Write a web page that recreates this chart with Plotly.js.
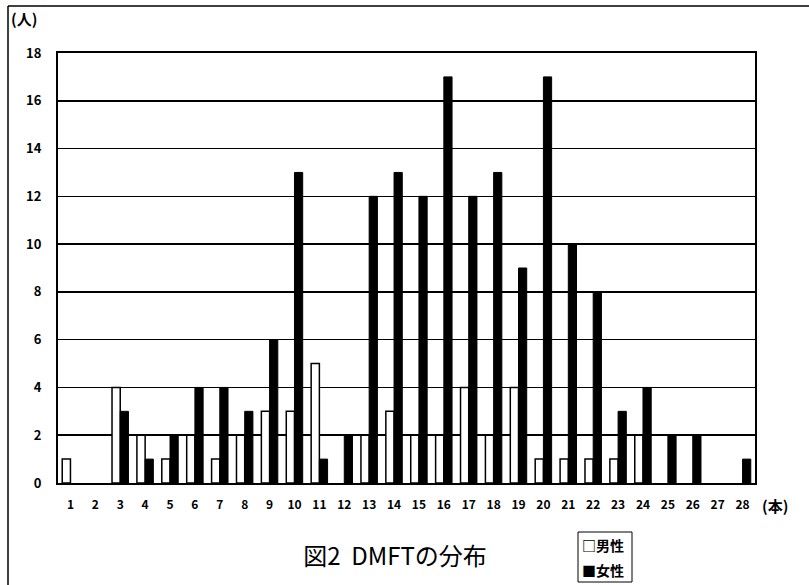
<!DOCTYPE html>
<html>
<head>
<meta charset="utf-8">
<script src="https://cdn.plot.ly/plotly-3.0.1.min.js"></script>
<style>html,body{margin:0;padding:0;background:#fff;}#chart{width:809px;height:585px;}</style>
</head>
<body>
<div id="chart"></div>
<script>
const categories = ["1","2","3","4","5","6","7","8","9","10","11","12","13","14","15","16","17","18","19","20","21","22","23","24","25","26","27","28"];
const maleValues   = [1,0,4,2,1,2,1,2,3,3,5,0,2,3,2,2,4,2,4,1,1,1,1,2,0,0,0,0];
const femaleValues = [0,0,3,1,2,4,4,3,6,13,1,2,12,13,12,17,12,13,9,17,10,8,3,4,2,2,0,1];
const yTicks = [0,2,4,6,8,10,12,14,16,18];
const seriesNames = ["男性","女性"];

const font = "'Noto Sans CJK JP', 'Liberation Sans', sans-serif";

const traces = [
  {type:'bar', name:seriesNames[0], x:categories, y:maleValues,
   marker:{color:'#ffffff', line:{color:'#000', width:maleValues.map(v => v > 0 ? 1.5 : 0)}}},
  {type:'bar', name:seriesNames[1], x:categories, y:femaleValues,
   marker:{color:'#000000', line:{color:'#000', width:femaleValues.map(v => v > 0 ? 1 : 0)}}}
];

const legBox = {x0:(578-58)/697, x1:(632-58)/697, y0:(483-532)/430, y1:(483-582)/430};

const layout = {
  width:809, height:585,
  margin:{l:58, r:54, t:53, b:102},
  paper_bgcolor:'#fff', plot_bgcolor:'#fff',
  showlegend:false,
  barmode:'group', bargap:0.34, bargroupgap:0,
  font:{family:font, color:'#000'},
  title:{text:'図2  DMFTの分布', x:395/809, xanchor:'center', y:1-557/585, yanchor:'middle',
         font:{family:font, size:24, color:'#000'}},
  xaxis:{type:'category', tickvals:categories, ticktext:categories, showgrid:false,
         showline:true, linecolor:'#000', linewidth:2, mirror:true, ticks:'',
         ticklabelstandoff:10,
         tickfont:{family:font, size:12, color:'#000', weight:'bold'}},
  yaxis:{range:[0,18], tickvals:yTicks, showgrid:true, gridcolor:'#000', gridwidth:1.5,
         showline:true, linecolor:'#000', linewidth:2, mirror:true, zeroline:false, ticks:'',
         ticklabelstandoff:12,
         tickfont:{family:font, size:13, color:'#000', weight:'bold'}},
  annotations:[
    {text:'(人)', xref:'paper', yref:'paper', x:(9-58)/697, y:(483-18)/430, xanchor:'left', yanchor:'middle',
     showarrow:false, font:{family:font, size:15, color:'#000', weight:'bold'}},
    {text:'(本)', xref:'paper', yref:'paper', x:(760-58)/697, y:(483-505)/430, xanchor:'left', yanchor:'middle',
     showarrow:false, font:{family:font, size:15, color:'#000', weight:'bold'}},
    {text:'□男性', xref:'paper', yref:'paper', x:(580-58)/697, y:(483-545)/430,
     xanchor:'left', yanchor:'middle', showarrow:false,
     font:{family:font, size:14, color:'#000', weight:'bold'}},
    {text:'■女性', xref:'paper', yref:'paper', x:(580-58)/697, y:(483-570)/430,
     xanchor:'left', yanchor:'middle', showarrow:false,
     font:{family:font, size:14, color:'#000', weight:'bold'}}
  ],
  shapes:[
    {type:'line', xref:'paper', yref:'paper', x0:(8-58)/697, x1:(8-58)/697, y0:(483-6)/430, y1:(483-585)/430,
     line:{color:'#000', width:1.5}},
    {type:'line', xref:'paper', yref:'paper', x0:(8-58)/697, x1:(809-58)/697, y0:(483-6)/430, y1:(483-6)/430,
     line:{color:'#000', width:1.5}},
    Object.assign({type:'rect', xref:'paper', yref:'paper', line:{color:'#000', width:1}}, legBox)
  ]
};

Plotly.newPlot('chart', traces, layout, {displayModeBar:false, staticPlot:true});
</script>
</body>
</html>
